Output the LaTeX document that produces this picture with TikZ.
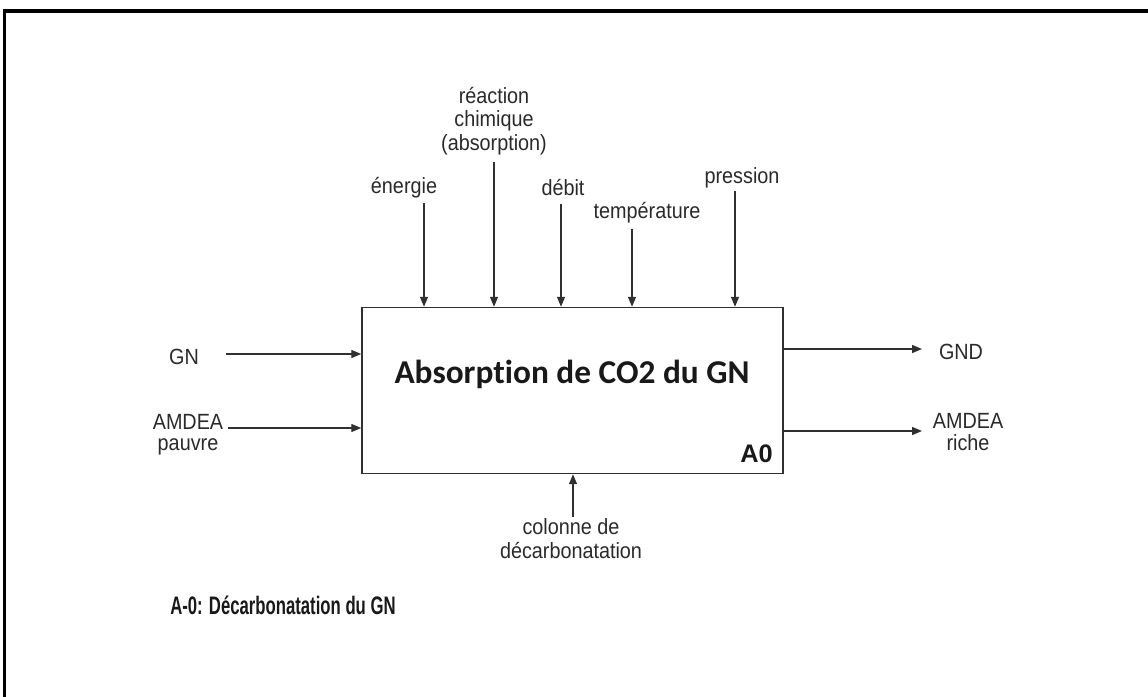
\documentclass[tikz,border=0pt]{standalone}
\usepackage{fontspec}
\setmainfont[FakeStretch=0.9]{Liberation Sans}
\newfontfamily\boxfont[RawFeature={-liga}]{Carlito}
\newfontfamily\narrowfont[FakeStretch=0.66]{Liberation Sans}
\newfontfamily\plainsans{Liberation Sans}
\usetikzlibrary{arrows.meta}
\definecolor{ink}{HTML}{2A2A2A}
\definecolor{edge}{HTML}{303030}
\begin{document}
\begin{tikzpicture}[x=0.75pt,y=-0.75pt,
  lbl/.style={font=\fontsize{16.5}{17.6}\selectfont, text=ink, inner sep=0pt, anchor=base, align=center},
  tight/.style={font=\fontsize{16.5}{15.2}\selectfont},
  flow/.style={draw=edge, line width=1pt, -{Triangle[length=7.5pt,width=6pt]}},
  act/.style={draw=edge, line width=1.1pt, fill=white, inner sep=0pt,
    minimum width=315.75pt, minimum height=124.5pt}
]
\useasboundingbox (0,0) rectangle (1148,696);
\fill[white] (0,0) rectangle (1148,696);
% page frame
\draw[line width=2.4pt, black] (4.5,705) -- (4.5,11) -- (1160,11);

% activity box
\node[act] (a0) at (572.5,390.5) {};
\node[inner sep=0pt, anchor=base, text=black!90,
  font=\boxfont\bfseries\fontsize{25}{30}\selectfont] (title) at (572,383) {Absorption de CO2 du GN};
\node[inner sep=0pt, anchor=base east, text=black!90,
  font=\plainsans\bfseries\fontsize{19}{22}\selectfont] (num) at (773,462) {A0};

% controls (multi-line nodes sit on the baseline of their last line)
\node[lbl] (energie) at (404,193) {énergie};
\node[lbl] (reaction) at (494,150) {réaction\\chimique\\(absorption)};
\node[lbl] (debit) at (563,195) {débit};
\node[lbl] (temp) at (647,218) {température};
\node[lbl] (press) at (742,183) {pression};
\coordinate (cE) at (424,203);
\coordinate (cR) at (494,162);
\coordinate (cD) at (561,204);
\coordinate (cT) at (632,229);
\coordinate (cP) at (735,191);
\foreach \c in {cE,cR,cD,cT,cP}
  \draw[flow] (\c) -- (\c |- a0.north);

% inputs
\node[lbl] (gn) at (184,364) {GN};
\node[lbl, tight] (amdeaP) at (188,450) {AMDEA\\pauvre};
\coordinate (iG) at (226,354);
\coordinate (iA) at (228,428);
\draw[flow] (iG) -- (iG -| a0.west);
\draw[flow] (iA) -- (iA -| a0.west);

% outputs
\node[lbl] (gnd) at (961,359) {GND};
\node[lbl, font=\fontsize{16.5}{16}\selectfont] (amdeaR) at (968,450) {AMDEA\\riche};
\coordinate (oG) at (922,349);
\coordinate (oA) at (922,431);
\draw[flow] (oG -| a0.east) -- (oG);
\draw[flow] (oA -| a0.east) -- (oA);

% mechanism
\node[lbl, font=\fontsize{16.5}{17.3}\selectfont] (colonne) at (571,558) {colonne de\\décarbonatation};
\coordinate (mC) at (573,517);
\draw[flow] (mC) -- (mC |- a0.south);

% diagram title
\node[inner sep=0pt, anchor=base west, text=black!90,
  font=\narrowfont\bfseries\fontsize{19}{22}\selectfont] (caption) at (170,614) {A-0: Décarbonatation du GN};
\end{tikzpicture}
\end{document}
